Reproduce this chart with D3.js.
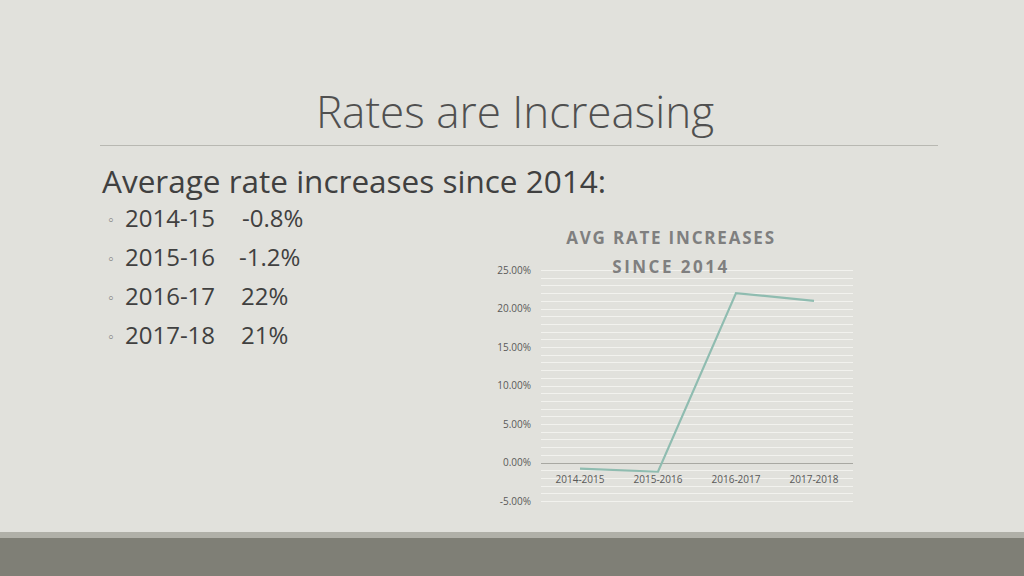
<!DOCTYPE html>
<html><head><meta charset="utf-8">
<script src="https://cdn.jsdelivr.net/npm/d3@7"></script>
<style>body{margin:0;background:#e1e1dc;font-family:"Open Sans","Noto Sans",sans-serif;}</style>
</head><body><div id="chart"></div>
<script>
// Chart data
const categories = ["2014-2015", "2015-2016", "2016-2017", "2017-2018"];
const rates = [-0.8, -1.2, 22, 21];
const yTicks = [-5, 0, 5, 10, 15, 20, 25];
const bulletYears = ["2014-15", "2015-16", "2016-17", "2017-18"];
const bulletValues = ["-0.8%", "-1.2%", "22%", "21%"];

const svg = d3.select("#chart").append("svg")
  .attr("width", 1024).attr("height", 576);

svg.append("rect").attr("width", 1024).attr("height", 576).attr("fill", "#e1e1dc");
svg.append("rect").attr("y", 532).attr("width", 1024).attr("height", 6).attr("fill", "#b0b0a8");
svg.append("rect").attr("y", 538).attr("width", 1024).attr("height", 38).attr("fill", "#7f7f76");

// Slide title and text
svg.append("text").attr("x", 515).attr("y", 128).attr("text-anchor", "middle")
  .attr("font-size", 44).attr("font-weight", 300).attr("fill", "#505050").text("Rates are Increasing");
svg.append("line").attr("x1", 100).attr("x2", 938).attr("y1", 145.5).attr("y2", 145.5)
  .attr("stroke", "#b8b8b2");
svg.append("text").attr("x", 102).attr("y", 193).attr("font-size", 31.5).attr("fill", "#404040")
  .text("Average rate increases since 2014:");
const valueX = [242, 239, 241, 241];
bulletYears.forEach((b, i) => {
  const y = 227 + i * 39;
  svg.append("text").attr("x", 108).attr("y", y - 2).attr("font-size", 16).attr("fill", "#8a8a8a").text("◦");
  svg.append("text").attr("x", 125).attr("y", y).attr("font-size", 24).attr("fill", "#404040").text(b);
  svg.append("text").attr("x", valueX[i]).attr("y", y).attr("font-size", 24).attr("fill", "#404040").text(bulletValues[i]);
});

// Chart
const x = d3.scaleBand().domain(categories).range([541, 853]);
const y = d3.scaleLinear().domain([-5, 25]).range([501, 270]);

const g = svg.append("g");
g.selectAll("line.grid").data(d3.range(-5, 25.01, 1)).enter().append("line")
  .attr("x1", 541).attr("x2", 853)
  .attr("y1", d => Math.round(y(d)) + 0.5).attr("y2", d => Math.round(y(d)) + 0.5)
  .attr("stroke", "#f2f2ee").attr("stroke-width", 1);
g.append("line").attr("x1", 541).attr("x2", 853)
  .attr("y1", Math.round(y(0)) + 0.5).attr("y2", Math.round(y(0)) + 0.5)
  .attr("stroke", "#a8a8a2");

const yAxis = svg.append("g").attr("transform", "translate(534,0)")
  .call(d3.axisLeft(y).tickValues(yTicks).tickSize(0).tickFormat(d => d.toFixed(2) + "%"));
yAxis.select(".domain").remove();
yAxis.selectAll("text").attr("font-size", 10).attr("fill", "#595959").attr("font-family", "Open Sans");

const xAxis = svg.append("g").attr("transform", `translate(0,${y(0) + 10})`)
  .call(d3.axisBottom(x).tickSize(0));
xAxis.select(".domain").remove();
xAxis.selectAll("text").attr("font-size", 10).attr("fill", "#595959").attr("font-family", "Open Sans");

svg.append("path").datum(rates)
  .attr("fill", "none").attr("stroke", "#8fbcb0").attr("stroke-width", 2.2)
  .attr("d", d3.line().x((d, i) => x(categories[i]) + x.bandwidth() / 2).y(d => y(d)));

svg.append("text").attr("x", 671).attr("y", 244).attr("text-anchor", "middle")
  .attr("font-size", 17).attr("font-weight", 700).attr("letter-spacing", 1.8).attr("fill", "#7f7f7f")
  .text("AVG RATE INCREASES");
svg.append("text").attr("x", 671).attr("y", 273).attr("text-anchor", "middle")
  .attr("font-size", 17).attr("font-weight", 700).attr("letter-spacing", 2.5).attr("fill", "#7f7f7f")
  .text("SINCE 2014");
</script></body></html>
